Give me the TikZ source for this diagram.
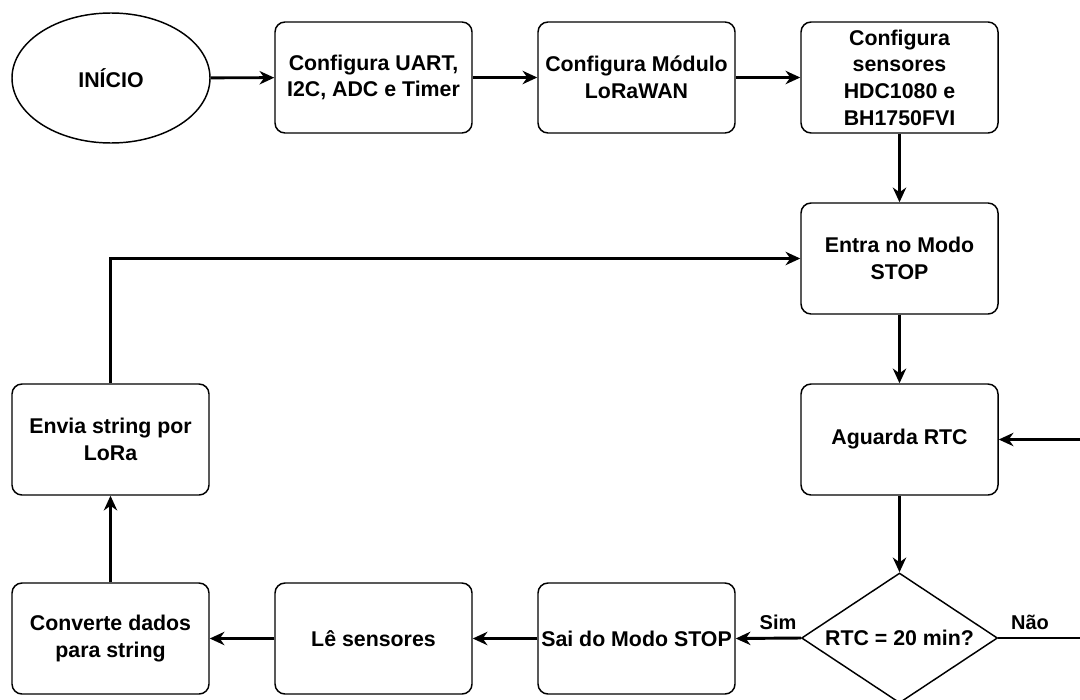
\documentclass[tikz,border=0pt]{standalone}
\usepackage{fontspec}
\setmainfont{Liberation Sans}
\usetikzlibrary{arrows.meta,shapes.geometric}
\begin{document}
\begin{tikzpicture}[x=0.75pt,y=-0.75pt,
  txt/.style={font=\fontsize{16}{20}\selectfont\bfseries, align=center},
  box/.style={txt, draw, line width=1.1pt, rounded corners=7.5pt, minimum width=147.75pt, minimum height=83.25pt, inner sep=2pt},
  conn/.style={line width=2.2pt, -{Stealth[length=11pt,width=10pt,inset=3.5pt]}},
  lbl/.style={font=\fontsize{15}{18}\selectfont\bfseries}]
\useasboundingbox (0,0) rectangle (1080,699);
\clip (0,0) rectangle (1080,699);
\node[txt, ellipse, draw, line width=1.1pt, minimum width=148.5pt, minimum height=97.5pt, inner sep=0pt] (inicio) at (111,78) {INÍCIO};
\node[box] (cfg1) at (373.5,77.5) {Configura UART,\\ I2C, ADC e Timer};
\node[box] (cfg2) at (636.5,77.5) {Configura Módulo\\ LoRaWAN};
\node[box] (cfg3) at (899.5,77.5) {Configura\\ sensores\\ HDC1080 e\\ BH1750FVI};
\node[box] (entra) at (899.5,258.5) {Entra no Modo\\ STOP};
\node[box] (aguarda) at (899.5,439.5) {Aguarda RTC};
\node[diamond, draw, line width=1.1pt, minimum width=147pt, minimum height=97.5pt, inner sep=0pt] (dec) at (899.5,638) {};
\node[txt] (dectext) at (dec.center) {RTC = 20 min?};
\node[box] (sai) at (636.5,638.5) {Sai do Modo STOP};
\node[box] (le) at (373.5,638.5) {Lê sensores};
\node[box] (conv) at (110.5,638.5) {Converte dados\\ para string};
\node[box] (envia) at (110.5,439.5) {Envia string por\\ LoRa};
\coordinate (r1) at (1095,638);
\coordinate (r2) at (1095,439.5);
\draw[conn] (inicio) -- (cfg1);
\draw[conn] (cfg1) -- (cfg2);
\draw[conn] (cfg2) -- (cfg3);
\draw[conn] (cfg3) -- (entra);
\draw[conn] (entra) -- (aguarda);
\draw[conn] (aguarda) -- (dec);
\draw[conn] (dec.west) -- (sai.east);
\draw[conn] (sai) -- (le);
\draw[conn] (le) -- (conv);
\draw[conn] (conv) -- (envia);
\draw[conn] (envia.north) |- (entra.west);
\draw[conn] (dec.east) -- (r1) -- (r2) -- (aguarda.east);
\node[lbl] (sim) at (778,622) {Sim};
\node[lbl] (nao) at (1030,622) {Não};
\end{tikzpicture}
\end{document}
